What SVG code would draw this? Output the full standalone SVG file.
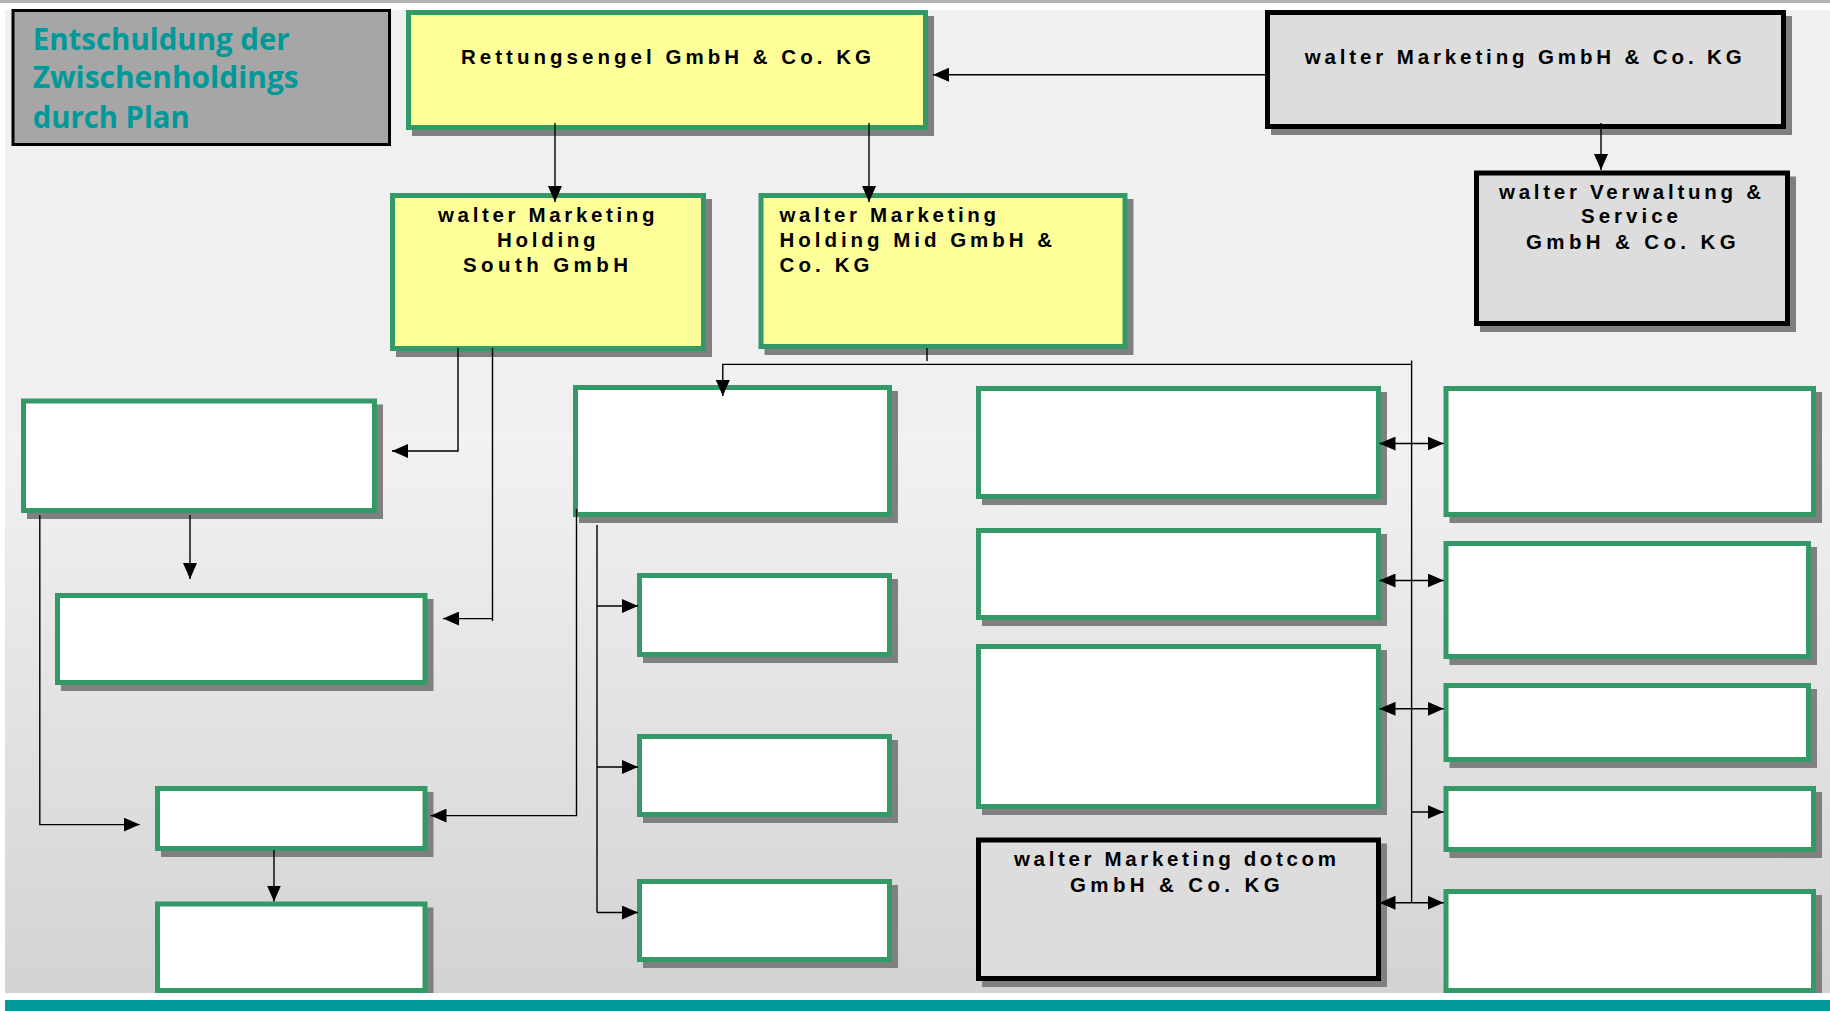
<svg xmlns="http://www.w3.org/2000/svg" width="1830" height="1011" viewBox="0 0 1830 1011">
<defs>
<linearGradient id="bg" gradientUnits="userSpaceOnUse" x1="0" y1="433" x2="0" y2="993">
<stop offset="0" stop-color="#f2f2f2"/>
<stop offset="1" stop-color="#d3d3d3"/>
</linearGradient>
<marker id="ah" markerUnits="userSpaceOnUse" markerWidth="16" markerHeight="14" refX="16" refY="7" orient="auto">
<path d="M0,0 L16,7 L0,14 z" fill="#000"/>
</marker>
</defs>
<style>
.sh{fill:#808080}
.gb{fill:#ffffff;stroke:#339966;stroke-width:5}
.yb{fill:#ffff99;stroke:#339966;stroke-width:5}
.kb{fill:#dddddd;stroke:#000;stroke-width:5}
.lbl{font-family:"Liberation Sans",Arial,sans-serif;font-weight:bold;font-size:20.5px;fill:#000}
.ttl{font-family:"Open Sans","Noto Sans",sans-serif;font-weight:bold;font-size:30px;fill:#009999}
.cn{fill:none;stroke:#000;stroke-width:1.4}
.ar{marker-end:url(#ah)}
</style>
<rect x="0" y="0" width="1830" height="1011" fill="#fff"/>
<rect x="0" y="0" width="1830" height="3" fill="#b4b4b4"/>
<rect x="5" y="10" width="1825" height="423" fill="#f0f0f0"/>
<rect x="5" y="433" width="1825" height="560" fill="url(#bg)"/>

<g id="title">
<rect x="13" y="10.5" width="376.5" height="134" fill="#a6a6a6" stroke="#000" stroke-width="3"/>
<text class="ttl" x="32.7" y="50" textLength="257" lengthAdjust="spacingAndGlyphs">Entschuldung der</text>
<text class="ttl" x="32.7" y="88.3" textLength="266" lengthAdjust="spacingAndGlyphs">Zwischenholdings</text>
<text class="ttl" x="32.7" y="128.3" textLength="157" lengthAdjust="spacingAndGlyphs">durch Plan</text>
</g>

<g id="rettungsengel">
<rect class="sh" x="412" y="16" width="522" height="120"/>
<rect class="yb" x="408.5" y="12.5" width="517" height="115"/>
<text class="lbl" x="461" y="64" textLength="410" lengthAdjust="spacing">Rettungsengel GmbH &amp; Co. KG</text>
</g>

<g id="wm-gmbh">
<rect class="sh" x="1271" y="16" width="521" height="119"/>
<rect class="kb" x="1267.5" y="12.5" width="516" height="114"/>
<text class="lbl" x="1304.7" y="64" textLength="437" lengthAdjust="spacing">walter Marketing GmbH &amp; Co. KG</text>
</g>

<g id="south">
<rect class="sh" x="396" y="199" width="316" height="158"/>
<rect class="yb" x="392.5" y="195.5" width="311" height="153"/>
<text class="lbl" x="438" y="222" textLength="216.5" lengthAdjust="spacing">walter Marketing</text>
<text class="lbl" x="497" y="247" textLength="98.6" lengthAdjust="spacing">Holding</text>
<text class="lbl" x="463" y="272" textLength="165" lengthAdjust="spacing">South GmbH</text>
</g>

<g id="mid">
<rect class="sh" x="764.5" y="199" width="369" height="156"/>
<rect class="yb" x="761" y="195.5" width="364" height="151"/>
<text class="lbl" x="779.5" y="222" textLength="216.5" lengthAdjust="spacing">walter Marketing</text>
<text class="lbl" x="779.5" y="247" textLength="272.5" lengthAdjust="spacing">Holding Mid GmbH &amp;</text>
<text class="lbl" x="779.5" y="272" textLength="90" lengthAdjust="spacing">Co. KG</text>
</g>

<g id="verwaltung">
<rect class="sh" x="1480" y="176.5" width="316" height="155.5"/>
<rect class="kb" x="1476.5" y="173" width="311" height="150.5"/>
<text class="lbl" x="1499" y="199.3" textLength="262" lengthAdjust="spacing">walter Verwaltung &amp;</text>
<text class="lbl" x="1581" y="223.3" textLength="97" lengthAdjust="spacing">Service</text>
<text class="lbl" x="1526" y="248.7" textLength="209.6" lengthAdjust="spacing">GmbH &amp; Co. KG</text>
</g>

<g id="a">
<rect class="sh" x="579" y="391" width="319" height="132"/>
<rect class="gb" x="575.5" y="387.5" width="314" height="127"/>
</g>
<g id="b1">
<rect class="sh" x="643" y="579" width="255" height="84"/>
<rect class="gb" x="639.5" y="575.5" width="250" height="79"/>
</g>
<g id="b2">
<rect class="sh" x="643" y="740" width="255" height="83"/>
<rect class="gb" x="639.5" y="736.5" width="250" height="78"/>
</g>
<g id="b3">
<rect class="sh" x="643" y="885" width="255" height="83"/>
<rect class="gb" x="639.5" y="881.5" width="250" height="78"/>
</g>

<g id="r1">
<rect class="sh" x="982" y="392" width="405" height="113"/>
<rect class="gb" x="978.5" y="388.5" width="400" height="108"/>
</g>
<g id="r2">
<rect class="sh" x="982" y="534" width="405" height="92"/>
<rect class="gb" x="978.5" y="530.5" width="400" height="87"/>
</g>
<g id="r3">
<rect class="sh" x="982" y="650" width="405" height="165"/>
<rect class="gb" x="978.5" y="646.5" width="400" height="160"/>
</g>
<g id="dotcom">
<rect class="sh" x="982" y="843.5" width="405" height="143.5"/>
<rect class="kb" x="978.5" y="840" width="400" height="138.5"/>
<text class="lbl" x="1014" y="866.3" textLength="322" lengthAdjust="spacing">walter Marketing dotcom</text>
<text class="lbl" x="1070" y="892" textLength="209.6" lengthAdjust="spacing">GmbH &amp; Co. KG</text>
</g>

<g id="f1">
<rect class="sh" x="1449.5" y="392" width="372.5" height="131"/>
<rect class="gb" x="1446" y="388.5" width="367.5" height="126"/>
</g>
<g id="f2">
<rect class="sh" x="1449.5" y="547" width="367.5" height="118"/>
<rect class="gb" x="1446" y="543.5" width="362.5" height="113"/>
</g>
<g id="f3">
<rect class="sh" x="1449.5" y="689" width="367.5" height="79"/>
<rect class="gb" x="1446" y="685.5" width="362.5" height="74"/>
</g>
<g id="f4">
<rect class="sh" x="1449.5" y="792" width="372.5" height="66"/>
<rect class="gb" x="1446" y="788.5" width="367.5" height="61"/>
</g>
<g id="f5">
<rect class="sh" x="1449.5" y="895" width="372.5" height="104"/>
<rect class="gb" x="1446" y="891.5" width="367.5" height="99"/>
</g>

<g id="l1">
<rect class="sh" x="27" y="404.5" width="356" height="114.5"/>
<rect class="gb" x="23.5" y="401" width="351" height="109.5"/>
</g>
<g id="l2">
<rect class="sh" x="61" y="599" width="372.5" height="92"/>
<rect class="gb" x="57.5" y="595.5" width="367.5" height="87"/>
</g>
<g id="l3">
<rect class="sh" x="161" y="792" width="272.5" height="65"/>
<rect class="gb" x="157.5" y="788.5" width="267.5" height="60"/>
</g>
<g id="l4">
<rect class="sh" x="161" y="907.5" width="272.5" height="92"/>
<rect class="gb" x="157.5" y="904" width="267.5" height="86.5"/>
</g>

<g id="connectors">
<path class="cn ar" d="M1265,74.7 H933"/>
<path class="cn ar" d="M555,123 V202"/>
<path class="cn ar" d="M869,123 V202"/>
<path class="cn ar" d="M1601,123 V170"/>
<path class="cn" d="M927,348 V361"/>
<path class="cn" d="M1411.6,360.5 V902.7"/>
<path class="cn ar" d="M1411.6,364.4 H722.8 V396"/>
<path class="cn ar" d="M1411.6,443.5 H1379.5"/>
<path class="cn ar" d="M1411.6,443.5 H1443.7"/>
<path class="cn ar" d="M1411.6,580.5 H1379.5"/>
<path class="cn ar" d="M1411.6,580.5 H1443.7"/>
<path class="cn ar" d="M1411.6,708.8 H1379.5"/>
<path class="cn ar" d="M1411.6,708.8 H1443.7"/>
<path class="cn ar" d="M1411.6,812 H1443.7"/>
<path class="cn ar" d="M1411.6,902.7 H1379.5"/>
<path class="cn ar" d="M1411.6,902.7 H1443.7"/>
<path class="cn" d="M597,525 V912.5"/>
<path class="cn ar" d="M597,606 H638"/>
<path class="cn ar" d="M597,767 H638"/>
<path class="cn ar" d="M597,912.5 H638"/>
<path class="cn ar" d="M576.5,509 V815.6 H430.5"/>
<path class="cn ar" d="M458,348 V451 H392"/>
<path class="cn" d="M492.5,348 V621"/>
<path class="cn ar" d="M492.5,618.6 H443"/>
<path class="cn ar" d="M190,515 V579"/>
<path class="cn ar" d="M39.8,515 V824.6 H139.7"/>
<path class="cn ar" d="M274,850 V901.5"/>
</g>

<rect x="0" y="993" width="1830" height="7" fill="#fff"/>
<rect x="5" y="1000" width="1825" height="11" fill="#009999"/>
</svg>
